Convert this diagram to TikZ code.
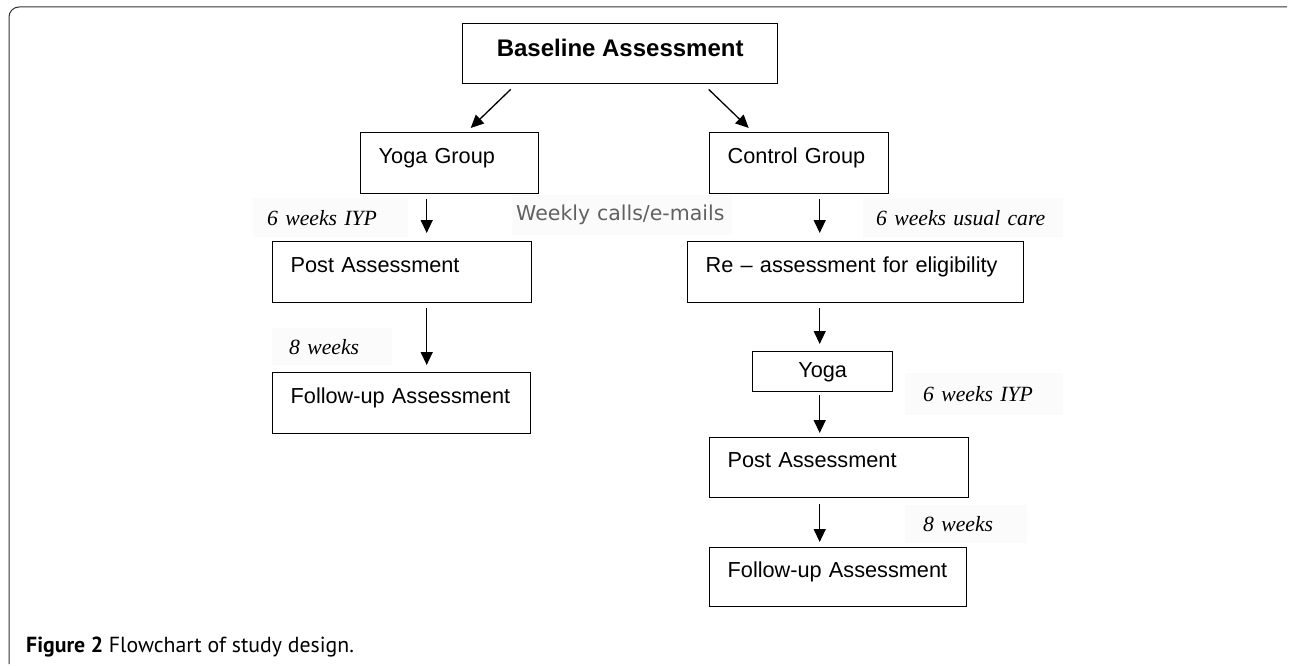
\documentclass[tikz,border=0pt]{standalone}
\usepackage{fontspec}
\setmainfont{Liberation Sans}
\newfontfamily\notefont{Liberation Serif}
\newfontfamily\callfont{DejaVu Sans}
\newfontfamily\capfont{PT Sans}
\usetikzlibrary{positioning,shapes,arrows.meta,calc}

\begin{document}
\begin{tikzpicture}[x=1pt, y=-1pt,
  box/.style={draw, rectangle, line width=1.4pt, anchor=north west, inner ysep=0pt, inner xsep=18pt, align=left, text width=#1, minimum height=61pt, text height=15pt, text depth=15pt, font=\fontsize{21.7pt}{26pt}\selectfont},
  note/.style={fill=black!1.5, anchor=north west, inner ysep=0pt, align=left, minimum height=39pt, font=\notefont\itshape\fontsize{21.7pt}{26pt}\selectfont},
  arr/.style={-{Triangle[length=13pt,width=12pt]}, line width=1.3pt}]
\useasboundingbox (0,0) rectangle (1290,666);
\draw[black!80, line width=1pt, rounded corners=10pt] (9,664) -- (9,7) -- (1287,7);

\node[draw, rectangle, line width=1.4pt, anchor=north west, minimum width=315pt, minimum height=60pt, inner sep=0pt, text height=15pt, text depth=10pt, font=\bfseries\fontsize{24pt}{28pt}\selectfont] (a) at (462,23) {Baseline Assessment};
\node[box=142pt] (b) at (360,132) {Yoga Group};
\node[box=143pt] (c) at (709,132) {Control Group};
\node[box=223pt] (d) at (272,241) {Post Assessment};
\node[box=222pt] (e) at (272,372) {Follow-up Assessment};
\node[box=300pt] (f) at (687,241) {Re -- assessment for eligibility};
\node[draw, rectangle, line width=1.4pt, anchor=north west, minimum width=140pt, minimum height=40pt, inner sep=0pt, text height=16pt, text depth=4.5pt, font=\fontsize{21.7pt}{26pt}\selectfont] (g) at (752,351) {Yoga};
\node[box=223pt, minimum height=60pt] (h) at (709,437) {Post Assessment};
\node[box=221pt, minimum height=59pt] (i) at (709,547) {Follow-up Assessment};

\node[note, inner xsep=14pt, text width=127pt] (j) at (253,198) {6 weeks IYP};
\node[note, inner xsep=4pt, text width=212pt, minimum height=40pt, text=black!62, font=\callfont\fontsize{20.5pt}{24pt}\selectfont] (k) at (512,195) {Weekly calls/e-mails};
\node[note, inner xsep=13pt, text width=174pt] (l) at (863,198) {6 weeks usual care};
\node[note, inner xsep=17pt, text width=86pt, minimum height=37pt] (m) at (272,328) {8 weeks};
\node[note, inner xsep=18pt, text width=122pt, minimum height=42pt] (n) at (905,373) {6 weeks IYP};
\node[note, inner xsep=18pt, text width=86pt, minimum height=38pt] (o) at (905,505) {8 weeks};

\node[anchor=west, inner sep=0pt, font=\capfont\fontsize{21.8pt}{26pt}\selectfont] (p) at (26,647) {\textbf{Figure 2} Flowchart of study design.};

\draw[arr] ([xshift=-109.5pt,yshift=-5pt]a.south) -- ([xshift=21pt,yshift=4pt]b.north);
\draw[arr] ([xshift=88.5pt,yshift=-5pt]a.south) -- ([xshift=-50.5pt,yshift=4pt]c.north);
\draw[arr, shorten <=5pt, shorten >=8pt] ([xshift=-23pt]b.south) -- ([xshift=-23pt]b.south |- d.north);
\draw[arr, shorten <=5pt, shorten >=7pt] ([xshift=-23pt]b.south |- d.south) -- ([xshift=-23pt]b.south |- e.north);
\draw[arr, shorten <=5pt, shorten >=8pt] ([xshift=20.5pt]c.south) -- ([xshift=20.5pt]c.south |- f.north);
\draw[arr, shorten <=5pt, shorten >=7pt] ([xshift=20.5pt]c.south |- f.south) -- ([xshift=20.5pt]c.south |- g.north);
\draw[arr, shorten <=3pt, shorten >=4pt] ([xshift=20.5pt]c.south |- g.south) -- ([xshift=20.5pt]c.south |- h.north);
\draw[arr, shorten <=6pt, shorten >=5pt] ([xshift=20.5pt]c.south |- h.south) -- ([xshift=20.5pt]c.south |- i.north);
\end{tikzpicture}
\end{document}
